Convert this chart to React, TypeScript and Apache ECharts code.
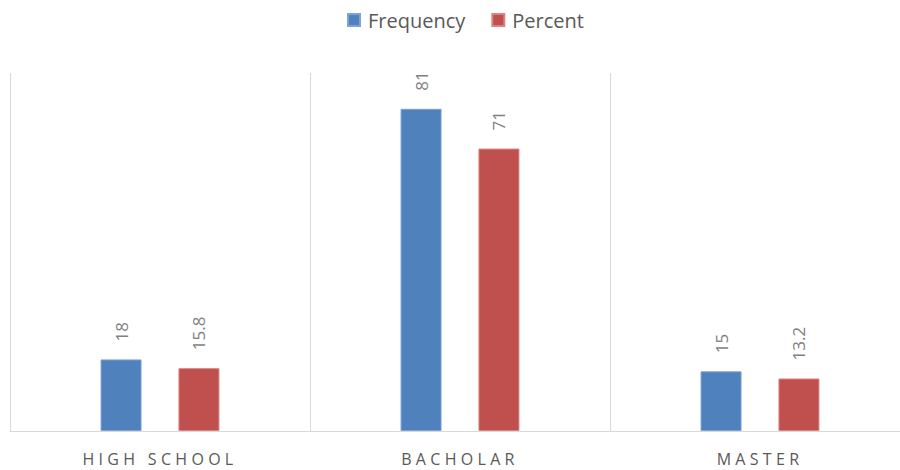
import React, { useEffect, useRef } from "react";
import * as echarts from "echarts";

const categories = ["HIGH SCHOOL", "BACHOLAR", "MASTER"];
const frequency = [18, 81, 15];
const percent = [15.8, 71, 13.2];
const seriesNames = ["Frequency", "Percent"];

export default function App() {
  const ref = useRef<HTMLDivElement>(null);
  useEffect(() => {
    if (!ref.current) return;
    const chart = echarts.init(ref.current, undefined, { renderer: "svg" });
    const font = "'Open Sans', 'Noto Sans', sans-serif";
    const barLabel = {
      show: true,
      position: "top" as const,
      rotate: 90,
      align: "left" as const,
      verticalAlign: "middle" as const,
      distance: 18,
      color: "#7f7f7f",
      fontSize: 17,
      fontFamily: font,
    };
    chart.setOption({
      animation: false,
      legend: {
        top: 5,
        left: 342,
        itemWidth: 12,
        itemHeight: 12,
        itemGap: 26,
        icon: "rect",
        textStyle: { color: "#595959", fontSize: 20, fontFamily: font, padding: [0, 0, 0, 3] },
        data: seriesNames,
      },
      grid: { left: 10, right: -10, top: 73, bottom: 39, containLabel: false, outerBoundsMode: "none" },
      xAxis: {
        type: "category",
        data: categories,
        axisLine: { lineStyle: { color: "#d9d9d9", width: 1 } },
        axisTick: { show: false },
        splitLine: { show: true, interval: 0, lineStyle: { color: "#d9d9d9", width: 1 } },
        axisLabel: { color: "#595959", fontSize: 16, fontFamily: font, margin: 20 },
      },
      yAxis: {
        type: "value",
        min: 0,
        max: 90,
        show: false,
        splitLine: { show: false },
      },
      series: [
        {
          name: seriesNames[0],
          type: "bar",
          data: frequency,
          barWidth: 41,
          barGap: "90%",
          itemStyle: { color: "#4f81bd", borderColor: "#7fa3d3", borderWidth: 1 },
          label: barLabel,
        },
        {
          name: seriesNames[1],
          type: "bar",
          data: percent,
          barWidth: 41,
          barGap: "90%",
          itemStyle: { color: "#c0504d", borderColor: "#d98481", borderWidth: 1 },
          label: barLabel,
        },
      ],
    });
    const svg = ref.current.querySelector("svg");
    if (svg) {
      svg.querySelectorAll("text").forEach((t) => {
        if (categories.includes(t.textContent || "")) {
          (t as SVGTextElement).style.letterSpacing = "4.3px";
        }
      });
    }
    return () => chart.dispose();
  }, []);
  return (
    <div
      ref={ref}
      style={{ position: "absolute", left: 0, top: 0, width: 900, height: 470, background: "#fff" }}
    />
  );
}
